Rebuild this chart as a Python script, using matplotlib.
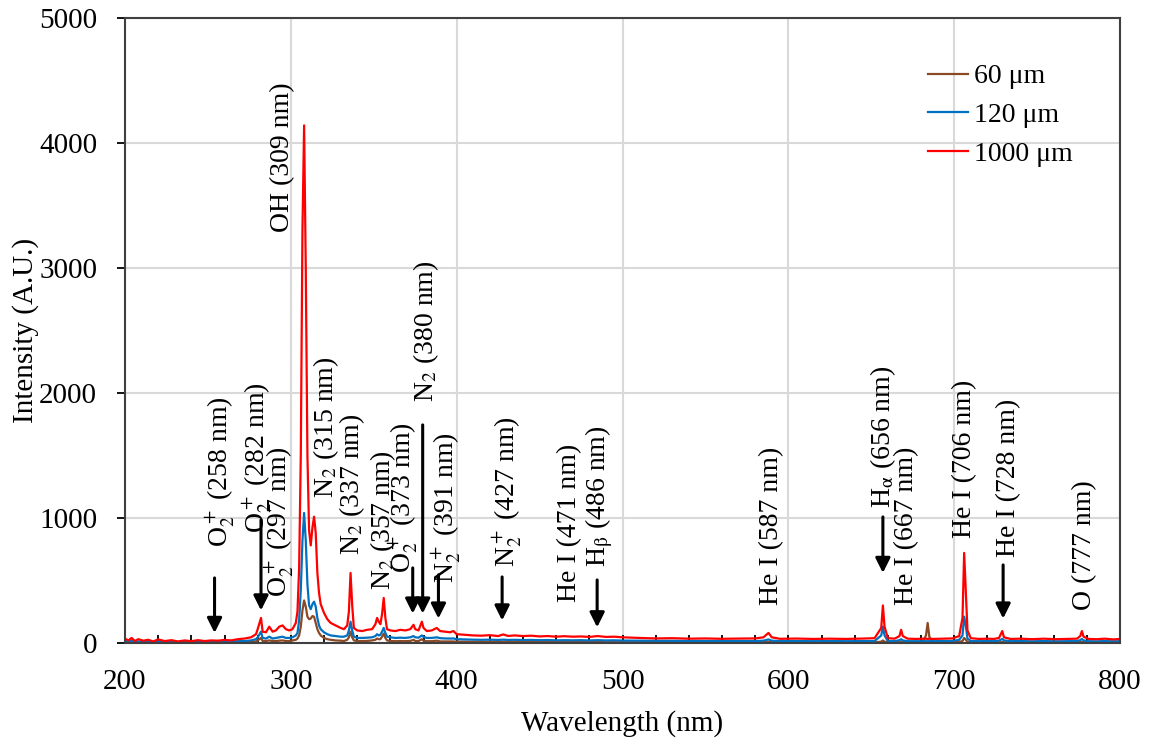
import matplotlib
matplotlib.use("Agg")
import matplotlib.pyplot as plt
from matplotlib.ticker import MultipleLocator

plt.rcParams['font.family'] = ['Liberation Serif', 'DejaVu Serif']
plt.rcParams['mathtext.fontset'] = 'stix'

# Emission spectra (wavelength in nm, intensity in arbitrary units)
wavelength = [
    200, 202, 204, 206, 208, 211, 214, 217, 220, 224, 228, 232, 236, 240, 244, 248,
    252, 256, 260, 264, 268, 272, 276, 279, 280, 282, 283, 285, 287, 289, 291, 293,
    295, 297, 299, 301, 303, 304, 305, 306, 307, 308, 309, 310, 311, 312, 313, 314,
    315, 316, 317, 318, 320, 322, 324, 327, 330, 332, 334, 335, 336, 337, 338, 340,
    343, 346, 349, 351, 352, 353, 354, 355, 356, 357, 358, 360, 363, 366, 369, 372,
    374, 375, 377, 379, 380, 382, 385, 388, 390, 393, 396, 398, 400, 405, 410, 415,
    420, 425, 428, 431, 435, 440, 445, 450, 455, 460, 465, 470, 475, 480, 485, 490,
    495, 500, 510, 520, 530, 540, 550, 560, 570, 580, 585, 588, 590, 595, 605, 615,
    625, 635, 645, 652, 656, 657, 658, 660, 664, 667, 668, 669, 672, 677, 681, 683,
    684, 685, 687, 693, 699, 703, 705, 706, 707, 708, 710, 715, 720, 724, 727, 729,
    730, 734, 740, 747, 754, 761, 768, 774, 776, 777, 778, 781, 786, 791, 796, 800,
]
intensity_60um = [
    10, 5, 8, 4, 6, 4, 5, 3, 5, 3, 4, 3, 4, 3, 4, 3,
    4, 4, 5, 5, 6, 6, 8, 12, 20, 40, 15, 15, 20, 15, 15, 18,
    20, 15, 15, 20, 25, 35, 60, 130, 260, 340, 290, 210, 190, 195, 215, 210,
    160, 110, 80, 60, 40, 30, 25, 20, 18, 15, 25, 45, 90, 45, 20, 15,
    15, 16, 20, 25, 35, 30, 30, 50, 75, 40, 20, 15, 14, 15, 14, 16,
    25, 15, 15, 30, 18, 14, 14, 18, 12, 12, 12, 12, 10, 10, 9, 9,
    9, 8, 9, 8, 8, 8, 8, 7, 7, 7, 7, 7, 7, 6, 7, 6,
    6, 6, 6, 6, 6, 5, 5, 5, 5, 5, 6, 8, 6, 5, 5, 5,
    5, 5, 5, 5, 10, 20, 10, 5, 5, 6, 8, 6, 5, 5, 5, 60,
    160, 50, 5, 5, 5, 8, 15, 40, 25, 8, 5, 5, 5, 5, 5, 7,
    5, 5, 5, 5, 5, 5, 5, 5, 6, 7, 6, 5, 5, 5, 5, 5,
]
intensity_120um = [
    15, 8, 20, 6, 12, 8, 10, 5, 10, 6, 9, 5, 8, 6, 9, 7,
    10, 9, 12, 10, 14, 15, 20, 30, 45, 90, 40, 35, 50, 35, 40, 45,
    50, 40, 40, 45, 60, 80, 180, 420, 820, 1040, 820, 470, 300, 270, 310, 330,
    290, 200, 140, 110, 85, 70, 60, 55, 50, 50, 60, 100, 170, 100, 50, 40,
    40, 42, 45, 55, 70, 60, 65, 90, 120, 80, 50, 45, 40, 42, 40, 45,
    55, 45, 42, 60, 48, 40, 40, 45, 38, 36, 35, 36, 30, 28, 26, 25,
    26, 24, 26, 24, 25, 23, 24, 22, 23, 21, 22, 21, 22, 20, 22, 20,
    21, 19, 18, 17, 17, 16, 16, 15, 16, 15, 18, 28, 18, 15, 15, 14,
    15, 14, 15, 15, 60, 130, 60, 15, 14, 22, 30, 20, 14, 14, 14, 14,
    14, 14, 14, 15, 15, 25, 60, 210, 140, 35, 15, 14, 15, 14, 18, 32,
    20, 14, 15, 13, 15, 13, 14, 15, 22, 32, 20, 14, 13, 15, 13, 14,
]
intensity_1000um = [
    35, 20, 40, 15, 30, 18, 25, 12, 28, 15, 22, 12, 20, 14, 22, 15,
    20, 18, 24, 20, 30, 35, 45, 70, 110, 200, 90, 85, 130, 90, 100, 130,
    140, 110, 100, 110, 160, 250, 600, 1500, 3300, 4140, 3000, 1500, 900, 780, 920, 1010,
    880, 560, 400, 310, 240, 190, 160, 140, 120, 110, 140, 250, 560, 300, 120, 100,
    95, 105, 110, 150, 200, 170, 150, 230, 360, 200, 110, 100, 95, 105, 100, 110,
    145, 110, 100, 170, 120, 95, 100, 120, 95, 90, 85, 95, 70, 65, 60, 58,
    62, 55, 68, 56, 60, 55, 58, 52, 55, 50, 54, 50, 52, 48, 55, 48,
    50, 45, 40, 36, 38, 34, 36, 33, 35, 36, 45, 80, 45, 33, 35, 32,
    34, 32, 35, 38, 120, 300, 130, 38, 34, 55, 105, 55, 34, 32, 34, 34,
    32, 34, 32, 34, 36, 55, 200, 720, 420, 100, 38, 32, 34, 32, 40, 95,
    45, 32, 34, 30, 34, 30, 32, 34, 55, 95, 50, 32, 30, 34, 28, 32,
]
series_labels = ['60 \u03bcm', '120 \u03bcm', '1000 \u03bcm']
series_colors = ['#8B4A26', '#0070C0', '#FF0000']

# Line identifications: (label, text x, text base, arrow x, arrow start, arrow tip)
line_labels = [
    (r'O$_2^+$ (258 nm)', 257.3, 768, 254, 520, 80),
    (r'O$_2^+$ (282 nm)', 279.6, 880, 282, 984, 260),
    (r'O$_2^+$ (297 nm)', 292.9, 368, None, None, None),
    ('OH (309 nm)', 295.3, 3288, None, None, None),
    (r'N$_2$ (315 nm)', 321.2, 1160, None, None, None),
    (r'N$_2$ (337 nm)', 336.9, 704, None, None, None),
    (r'N$_2$ (357 nm)', 355.6, 424, None, None, None),
    (r'O$_2^+$ (373 nm)', 367.7, 560, 373.5, 600, 235),
    (r'N$_2$ (380 nm)', 381.5, 1928, 379.5, 1744, 235),
    (r'N$_2^+$ (391 nm)', 393.6, 480, 389, 544, 195),
    (r'N$_2^+$ (427 nm)', 430.4, 608, 427.4, 528, 180),
    ('He I (471 nm)', 467.8, 328, None, None, None),
    (r'H$_\mathrm{\beta}$ (486 nm)', 485.9, 608, 484.7, 504, 125),
    ('He I (587 nm)', 589.6, 304, None, None, None),
    (r'H$_\mathrm{\alpha}$ (656 nm)', 657.2, 1080, 657, 1008, 560),
    ('He I (667 nm)', 671.1, 304, None, None, None),
    ('He I (706 nm)', 706.0, 840, None, None, None),
    ('He I (728 nm)', 732.6, 688, 729.5, 624, 195),
    ('O (777 nm)', 778.4, 264, None, None, None),
]

fig = plt.figure(figsize=(11.51, 7.45), dpi=100)
ax = fig.add_axes([0.1086, 0.137, 0.8645, 0.839])

for y, lab, col in zip([intensity_60um, intensity_120um, intensity_1000um],
                       series_labels, series_colors):
    ax.plot(wavelength, y, color=col, lw=1.6, label=lab)

for text, tx, ty, axx, ay0, ay1 in line_labels:
    ax.text(tx, ty, text, rotation=90, ha='center', va='bottom', fontsize=20)
    if axx is not None:
        ax.annotate('', xy=(axx, ay1), xytext=(axx, ay0),
                    arrowprops=dict(arrowstyle='-|>', color='black', lw=2.2,
                                    mutation_scale=22, shrinkA=0, shrinkB=0))

ax.set_xlim(200, 800)
ax.set_ylim(0, 5000)
ax.xaxis.set_major_locator(MultipleLocator(100))
ax.xaxis.set_minor_locator(MultipleLocator(20))
ax.yaxis.set_major_locator(MultipleLocator(1000))
ax.grid(True, which='major', color='#D9D9D9', lw=1.5)
ax.set_axisbelow(True)
ax.tick_params(axis='x', which='both', direction='in', length=6, width=1.3,
               labelsize=21, pad=19)
ax.tick_params(axis='y', which='major', direction='out', length=6, width=1.3,
               labelsize=21, pad=14)
for s in ax.spines.values():
    s.set_color('#404040')
    s.set_linewidth(1.5)

ax.set_xlabel('Wavelength (nm)', fontsize=21)
ax.set_ylabel('Intensity (A.U.)', fontsize=21)
ax.xaxis.set_label_coords(0.5, -0.107)
ax.yaxis.set_label_coords(-0.100, 0.5)
ax.yaxis.label.set_va('center')

leg = ax.legend(loc='upper left', bbox_to_anchor=(0.796, 0.944), frameon=False,
                fontsize=20, handlelength=1.45, handletextpad=0.2,
                labelspacing=0.48, borderaxespad=0)

fig.savefig('out.png', dpi=100)
